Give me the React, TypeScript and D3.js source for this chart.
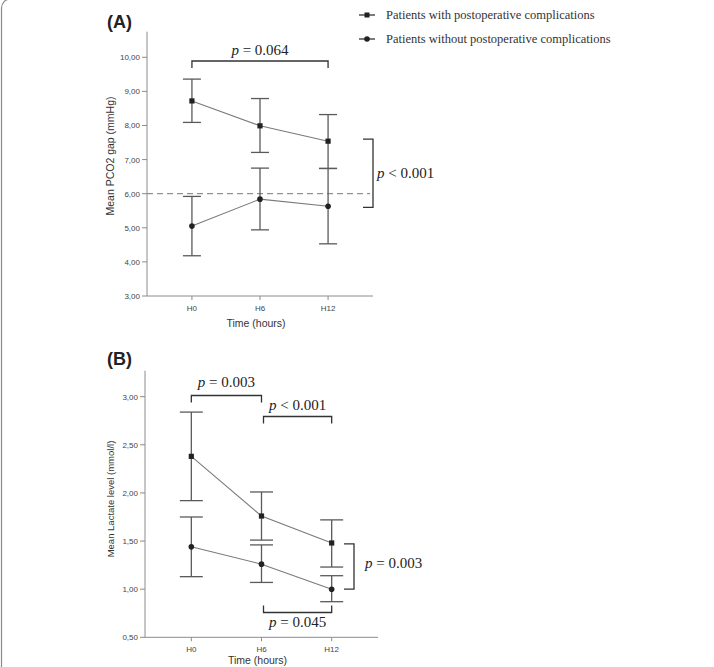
import * as d3 from 'd3'
import { useEffect, useRef } from 'react'

const times = ['H0', 'H6', 'H12']
const seriesNames = [
  'Patients with postoperative complications',
  'Patients without postoperative complications',
]

// panel A: PCO2 gap (mmHg)
const pcoWithMean = [8.72, 7.99, 7.54]
const pcoWithLow = [8.09, 7.21, 6.74]
const pcoWithHigh = [9.36, 8.79, 8.32]
const pcoWithoutMean = [5.05, 5.84, 5.63]
const pcoWithoutLow = [4.18, 4.94, 4.53]
const pcoWithoutHigh = [5.92, 6.75, 6.74]
const pcoTicks = [3, 4, 5, 6, 7, 8, 9, 10]

// panel B: lactate (mmol/l)
const lacWithMean = [2.38, 1.76, 1.48]
const lacWithLow = [1.92, 1.51, 1.23]
const lacWithHigh = [2.84, 2.01, 1.72]
const lacWithoutMean = [1.44, 1.26, 1.0]
const lacWithoutLow = [1.13, 1.07, 0.87]
const lacWithoutHigh = [1.75, 1.46, 1.14]
const lacTicks = [0.5, 1, 1.5, 2, 2.5, 3]

const SANS = 'Liberation Sans, Arial, sans-serif'
const SERIF = 'Liberation Serif, Times New Roman, serif'

const App = () => {
  const ref = useRef<SVGSVGElement>(null)

  useEffect(() => {
    const svg = d3.select(ref.current)
    svg.selectAll('*').remove()

    // frame
    svg
      .append('rect')
      .attr('x', 1.5)
      .attr('y', -1)
      .attr('width', 900)
      .attr('height', 900)
      .attr('rx', 9)
      .attr('fill', 'none')
      .attr('stroke', '#8a8a8a')
      .attr('stroke-width', 1.2)

    const fmt = (v: number) => d3.format('.2f')(v).replace('.', ',')

    function panel(opts: any) {
      const x = d3
        .scalePoint()
        .domain(times)
        .range([opts.left, opts.right])
        .padding(0.66)
      const y = d3
        .scaleLinear()
        .domain(opts.domain)
        .range([opts.bottom, opts.top])

      const g = svg.append('g')

      // axes
      g.append('line')
        .attr('x1', opts.left)
        .attr('x2', opts.left)
        .attr('y1', opts.top)
        .attr('y2', opts.bottom)
        .attr('stroke', '#8c8c8c')
      g.append('line')
        .attr('x1', opts.left)
        .attr('x2', opts.right)
        .attr('y1', opts.bottom)
        .attr('y2', opts.bottom)
        .attr('stroke', '#8c8c8c')

      opts.ticks.forEach(function (t: number) {
        g.append('line')
          .attr('x1', opts.left - 5)
          .attr('x2', opts.left)
          .attr('y1', y(t))
          .attr('y2', y(t))
          .attr('stroke', '#8c8c8c')
        g.append('text')
          .attr('x', opts.left - 7)
          .attr('y', y(t) + 3)
          .attr('text-anchor', 'end')
          .style('font', '8px ' + SANS)
          .attr('fill', '#444')
          .text(fmt(t))
      })

      times.forEach(function (t) {
        g.append('line')
          .attr('x1', x(t))
          .attr('x2', x(t))
          .attr('y1', opts.bottom)
          .attr('y2', opts.bottom + 4)
          .attr('stroke', '#8c8c8c')
        g.append('text')
          .attr('x', x(t))
          .attr('y', opts.bottom + 15)
          .attr('text-anchor', 'middle')
          .style('font', '8px ' + SANS)
          .attr('fill', '#444')
          .text(t)
      })

      g.append('text')
        .attr('x', (opts.left + opts.right) / 2 - 4)
        .attr('y', Math.min(opts.bottom + 31, 664))
        .attr('text-anchor', 'middle')
        .style('font', '10.5px ' + SANS)
        .attr('fill', '#333')
        .text('Time (hours)')

      g.append('text')
        .attr(
          'transform',
          'translate(' + 114 + ',' + opts.labelY + ') rotate(-90)',
        )
        .attr('text-anchor', 'middle')
        .style('font', opts.labelSize + 'px ' + SANS)
        .attr('fill', '#333')
        .text(opts.label)

      g.append('text')
        .attr('x', 107)
        .attr('y', opts.tagY)
        .style('font', 'bold 18px ' + SANS)
        .attr('fill', '#222')
        .text(opts.tag)

      if (opts.refLine != null) {
        g.append('line')
          .attr('x1', opts.left)
          .attr('x2', opts.right - 3)
          .attr('y1', y(opts.refLine))
          .attr('y2', y(opts.refLine))
          .attr('stroke', '#777')
          .attr('stroke-dasharray', '6,4')
      }

      const line = d3
        .line<number>()
        .x((d, i) => x(times[i]) as number)
        .y((d) => y(d))

      opts.series.forEach(function (s: any, k: number) {
        g.append('path')
          .attr('d', line(s.mean))
          .attr('fill', 'none')
          .attr('stroke', '#7a7a7a')
          .attr('stroke-width', 1.1)

        s.mean.forEach(function (m: number, i: number) {
          const cx = x(times[i]) as number
          g.append('line')
            .attr('x1', cx)
            .attr('x2', cx)
            .attr('y1', y(s.low[i]))
            .attr('y2', y(s.high[i]))
            .attr('stroke', '#5a5a5a')
            .attr('stroke-width', 1.3)
          ;[s.low[i], s.high[i]].forEach(function (v: number) {
            g.append('line')
              .attr('x1', cx - opts.cap)
              .attr('x2', cx + opts.cap)
              .attr('y1', y(v))
              .attr('y2', y(v))
              .attr('stroke', '#5a5a5a')
              .attr('stroke-width', 1.3)
          })
          if (k === 0) {
            g.append('rect')
              .attr('x', cx - 2.6)
              .attr('y', y(m) - 2.6)
              .attr('width', 5.2)
              .attr('height', 5.2)
              .attr('fill', '#222')
          } else {
            g.append('circle')
              .attr('cx', cx)
              .attr('cy', y(m))
              .attr('r', 2.8)
              .attr('fill', '#222')
          }
        })
      })

      return { x, y, g }
    }

    function bracketH(x1: number, x2: number, yy: number, dir: number) {
      svg
        .append('path')
        .attr(
          'd',
          'M' + x1 + ',' + (yy + dir * 7) + 'V' + yy + 'H' + x2 + 'V' + (yy + dir * 7),
        )
        .attr('fill', 'none')
        .attr('stroke', '#333')
        .attr('stroke-width', 1.3)
    }

    function bracketV(xx: number, y1: number, y2: number) {
      svg
        .append('path')
        .attr('d', 'M' + (xx - 10) + ',' + y1 + 'H' + xx + 'V' + y2 + 'H' + (xx - 10))
        .attr('fill', 'none')
        .attr('stroke', '#333')
        .attr('stroke-width', 1.3)
    }

    function pText(xx: number, yy: number, rest: string, anchor: string) {
      const t = svg
        .append('text')
        .attr('x', xx)
        .attr('y', yy)
        .attr('text-anchor', anchor)
        .style('font', '15px ' + SERIF)
        .attr('fill', '#222')
      t.append('tspan').style('font-style', 'italic').text('p')
      t.append('tspan').text(' ' + rest)
    }

    const a = panel({
      left: 147,
      right: 373,
      top: 31.7,
      bottom: 296,
      domain: [3, 10.75],
      ticks: pcoTicks,
      label: 'Mean PCO2 gap (mmHg)',
      labelSize: 10.5,
      labelY: 156,
      tag: '(A)',
      tagY: 28,
      cap: 9,
      refLine: 6,
      series: [
        { mean: pcoWithMean, low: pcoWithLow, high: pcoWithHigh },
        { mean: pcoWithoutMean, low: pcoWithoutLow, high: pcoWithoutHigh },
      ],
    })

    const ax = (t: string) => a.x(t) as number
    bracketH(ax('H0'), ax('H12'), 61, 1)
    pText((ax('H0') + ax('H12')) / 2, 55, '= 0.064', 'middle')
    bracketV(373, a.y(7.6), a.y(5.6))
    pText(377, 178, '< 0.001', 'start')

    const b = panel({
      left: 145,
      right: 378,
      top: 370.7,
      bottom: 637.3,
      domain: [0.5, 3.27],
      ticks: lacTicks,
      label: 'Mean Lactate level (mmol/l)',
      labelSize: 9.5,
      labelY: 499,
      tag: '(B)',
      tagY: 365,
      cap: 11.5,
      refLine: null,
      series: [
        { mean: lacWithMean, low: lacWithLow, high: lacWithHigh },
        { mean: lacWithoutMean, low: lacWithoutLow, high: lacWithoutHigh },
      ],
    })

    const bx = (t: string) => b.x(t) as number
    bracketH(bx('H0'), bx('H6'), 395.5, 1)
    pText((bx('H0') + bx('H6')) / 2, 387, '= 0.003', 'middle')
    bracketH(bx('H6') + 2, bx('H12'), 416.5, 1)
    pText((bx('H6') + bx('H12')) / 2 + 1, 410, '< 0.001', 'middle')
    bracketH(bx('H6') + 2, bx('H12'), 612.5, -1)
    pText((bx('H6') + bx('H12')) / 2 + 1, 627, '= 0.045', 'middle')
    bracketV(354, b.y(1.47), b.y(1.0))
    pText(365, 568, '= 0.003', 'start')

    // legend
    seriesNames.forEach(function (name, i) {
      const ly = 15 + i * 24
      svg
        .append('line')
        .attr('x1', 359)
        .attr('x2', 375)
        .attr('y1', ly)
        .attr('y2', ly)
        .attr('stroke', '#333')
        .attr('stroke-width', 1.3)
      if (i === 0) {
        svg
          .append('rect')
          .attr('x', 364.5)
          .attr('y', ly - 2.5)
          .attr('width', 5)
          .attr('height', 5)
          .attr('fill', '#222')
      } else {
        svg
          .append('circle')
          .attr('cx', 367)
          .attr('cy', ly)
          .attr('r', 2.8)
          .attr('fill', '#222')
      }
      svg
        .append('text')
        .attr('x', 386)
        .attr('y', ly + 4)
        .style('font', '12.5px ' + SERIF)
        .attr('fill', '#333')
        .text(name)
    })
  }, [])

  return (
    <svg
      ref={ref}
      width={714}
      height={667}
      style={{ position: 'absolute', left: 0, top: 0, background: '#fff' }}
    />
  )
}

export default App
